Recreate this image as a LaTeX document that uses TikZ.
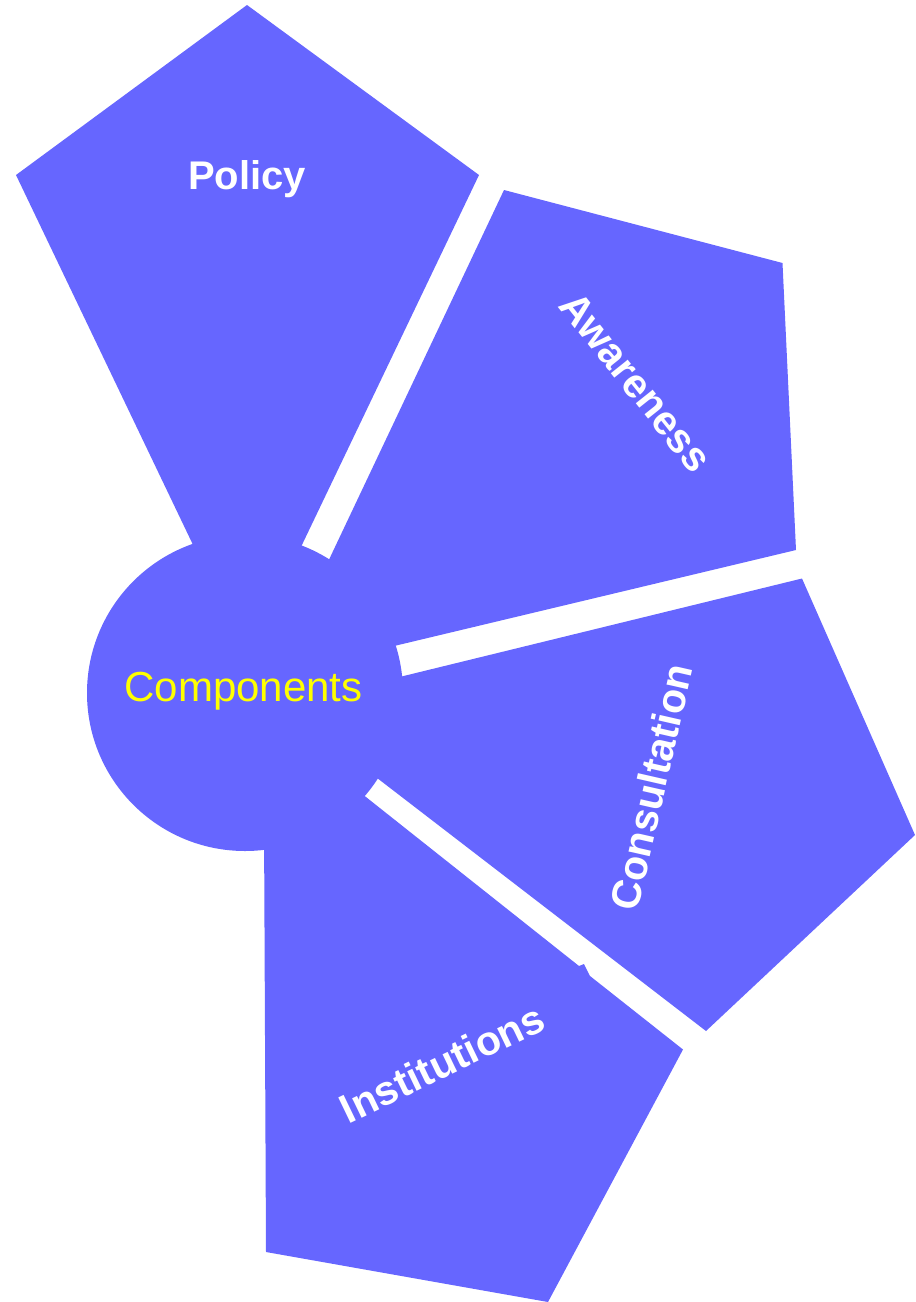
\documentclass[tikz,border=0pt]{standalone}
\usepackage{fontspec}
\setmainfont{Liberation Sans}
\definecolor{seg}{HTML}{6666FF}
\definecolor{hubtext}{HTML}{FFFF00}
\begin{document}
\begin{tikzpicture}[x=1pt,y=-1pt,
  segfill/.style={fill=seg,draw=none},
  seglabel/.style={text=white,font=\fontsize{41}{49}\selectfont\bfseries,inner sep=0pt}]
\useasboundingbox (0,0) rectangle (916,1302);
\begin{scope}
\clip (0,0) rectangle (916,1302);
% Policy
\fill[segfill] (16,175) -- (247,5) -- (479,175) -- (289,572) -- (206,572) -- cycle;
% Awareness
\fill[segfill] (504,190) -- (782.5,263) -- (796,550) -- (369,652) -- (317,585) -- cycle;
% Consultation
\fill[segfill] (802,578.5) -- (915,835) -- (706,1031) -- (355,761) -- (375,683) -- cycle;
% Institutions
\fill[segfill] (264,820) -- (342,778) -- (579,966) -- (584,964) -- (590,976) -- (683,1049.5) -- (548,1302) -- (266,1252) -- cycle;
\end{scope}
\node[circle,fill=seg,minimum size=316pt,inner sep=0pt] (hub) at (245,693) {};
\node[anchor=base,text=hubtext,font=\fontsize{42}{50}\selectfont,inner sep=0pt] (comp) at (243.5,701) {Components};
\node[seglabel,anchor=base,font=\fontsize{40}{48}\selectfont\bfseries] (policy) at (247,189) {Policy};
\node[seglabel,rotate=-51.43] (aware) at (636,382) {Awareness};
\node[seglabel,rotate=77.14] (consult) at (651,787) {Consultation};
\node[seglabel,rotate=25.71] (inst) at (442,1063) {Institutions};
\end{tikzpicture}
\end{document}
